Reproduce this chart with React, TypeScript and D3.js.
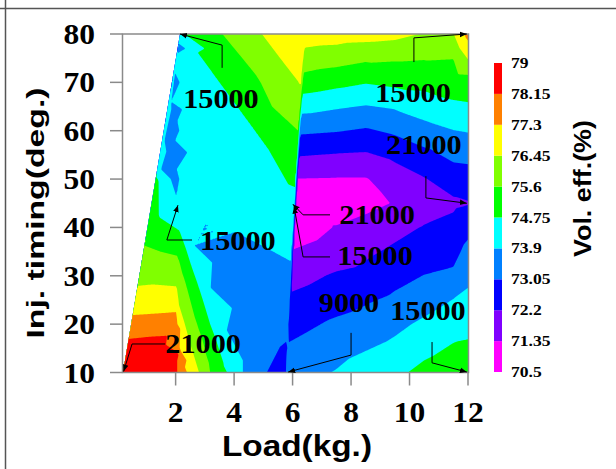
import React, { useMemo } from "react";
import * as d3 from "d3";

const W = 616;
const H = 469;

// colour levels of the filled contour (Vol. eff. %)
const levels = [70.5, 71.35, 72.2, 73.05, 73.9, 74.75, 75.6, 76.45, 77.3, 78.15, 79];
const levelLabels = ["70.5", "71.35", "72.2", "73.05", "73.9", "74.75", "75.6", "76.45", "77.3", "78.15", "79"];
const bandColors = ["#FF00FF", "#8000FF", "#0000FF", "#0080FF", "#00FFFF", "#00FF00", "#80FF00", "#FFFF00", "#FF8000", "#FF0000"];

const xTicks = [2, 4, 6, 8, 10, 12];
const yTicks = [10, 20, 30, 40, 50, 60, 70, 80];
const loadDomain = [0.2, 12];
const timingDomain = [10, 80];

// data hull (load, timing)
const hull: [number, number][] = [[0.2, 10], [2.15, 80], [12, 80], [12, 10]];

type S = [number, number, number]; // [load, timing, vol. eff.]

// left wedge (load < 2)
const leftSamples: S[] = [
  [0.2, 10, 79.0], [0.34, 15, 78.5], [0.48, 20, 77.6], [0.62, 25, 76.8], [0.76, 30, 76.2],
  [0.9, 35, 75.7], [1.04, 40, 75.3], [1.31, 50, 74.9], [1.45, 55, 74.7], [1.73, 65, 74.4],
  [2.01, 75, 74.2], [2.15, 80, 74.0],
  [2.01, 10, 78.6], [2.02, 14, 78.4], [2.02, 20, 77.7], [2.03, 25, 76.9], [2.04, 30, 76.1],
  [2.05, 35, 75.5], [2.05, 40, 74.7], [2.06, 45, 73.95], [2.07, 50, 73.45], [2.08, 60, 73.35],
  [2.1, 70, 73.4], [2.11, 77, 73.6],
  [2.02, 46.5, 73.9], [1.5, 52, 73.9], [1.62, 58, 73.9], [1.85, 66, 73.9], [1.98, 72, 73.9], [2.1, 78, 73.9],
  [1.8, 56, 73.5], [1.95, 64, 73.5], [1.0, 13, 78.8], [1.5, 16, 78.45],
];

// middle strip (2 < load < 6)
const middleSamples: S[] = [
  [2.09, 10, 77.8], [2.1, 15, 77.4], [2.1, 20, 76.9], [2.11, 25, 76.35], [2.12, 30, 75.9],
  [2.13, 35, 75.4], [2.13, 40, 74.65], [2.14, 45, 73.9], [2.15, 50, 74.1], [2.16, 60, 74.3],
  [2.18, 70, 74.45], [2.19, 80, 74.65],
  [2.39, 10, 77.3], [2.8, 10, 76.45], [3.18, 10, 75.6], [3.76, 10, 74.75], [4.3, 10, 73.9], [5.12, 10, 73.05],
  [5.73, 10, 72.5], [5.78, 15, 72.95], [5.82, 20, 73.3], [5.87, 25, 73.55], [5.92, 30, 73.75],
  [5.96, 35, 74.0], [6.01, 40, 74.3], [6.06, 45, 74.55], [6.1, 50, 74.85], [6.15, 55, 75.15],
  [6.19, 60, 75.6], [6.24, 65, 76.05], [6.29, 70, 76.5], [6.33, 75, 76.8], [6.38, 80, 77.05],
  [2.3, 80, 74.75], [3.6, 80, 75.6], [4.95, 80, 76.45],
  [3.25, 72.1, 74.75], [4.2, 64.3, 74.75], [5.15, 56.4, 74.75],
  [4.92, 69.85, 75.6], [5.6, 74.8, 76.45],
  [3.1, 41.9, 73.9], [4.05, 39.0, 73.9], [5.0, 36.1, 73.9],
  [2.65, 36.25, 73.9], [3.2, 27.5, 73.9], [3.75, 18.75, 73.9],
  [2.54, 32, 74.75], [2.95, 24.6, 74.75], [3.35, 17.3, 74.75],
  [2.65, 21.5, 75.6], [2.45, 17, 76.45], [5.57, 15.3, 73.05],
  [3.0, 55, 74.3], [4.0, 50, 74.3], [5.0, 45, 74.4], [2.6, 65, 74.45], [3.5, 45, 74.2],
  [3.5, 33, 73.6], [4.5, 27, 73.45], [5.2, 22, 73.4], [4.6, 33, 73.65], [4.7, 13, 73.5],
  [3.3, 77, 75.15], [5.0, 62, 75.2], [4.2, 71, 75.2],
  [4.5, 78, 76.0], [5.6, 68, 76.0], [5.3, 72, 76.0], [5.8, 77, 76.75],
  [3.42, 20, 74.3], [2.94, 20, 75.2], [2.53, 20, 76.0],
  [2.5, 12, 76.9], [3.9, 12, 74.3], [2.9, 12, 76.0],
];

// right block edge (just past load 6)
const rightEdgeSamples: S[] = [
  [5.81, 10, 73.5], [5.86, 15, 73.15], [5.9, 20, 72.75], [5.95, 25, 72.35], [6.0, 30, 71.9],
  [6.04, 35, 71.4], [6.09, 40, 70.9], [6.14, 45, 70.85], [6.18, 50, 71.33], [6.23, 55, 72.25],
  [6.27, 60, 73.2], [6.32, 65, 74.2], [6.37, 70, 75.25], [6.41, 75, 76.1], [6.46, 80, 76.9],
];

// right block columns
const rightLoads = [7.5, 8.5, 9.5, 10.5, 11.5, 12];
const rightTimings = [10, 15, 20, 25, 30, 35, 40, 45, 50, 55, 60, 65, 70, 75, 80];
const effAt75 = [73.95, 73.6, 73.2, 72.7, 72.3, 71.75, 71.4, 70.85, 71.3, 72.15, 73.1, 74.0, 75.0, 75.95, 76.85];
const effAt85 = [74.3, 73.85, 73.4, 72.95, 72.45, 72.05, 71.65, 71.1, 71.3, 72.1, 72.95, 73.85, 74.8, 75.75, 76.8];
const effAt95 = [74.55, 74.1, 73.7, 73.2, 72.8, 72.35, 71.95, 71.4, 71.75, 72.4, 73.2, 74.0, 74.95, 75.7, 76.7];
const effAt105 = [75.0, 74.5, 74.05, 73.55, 73.07, 72.65, 72.25, 71.8, 72.15, 72.8, 73.6, 74.3, 75.0, 75.65, 76.4];
const effAt115 = [75.3, 74.85, 74.4, 73.92, 73.2, 72.8, 72.45, 72.05, 72.6, 73.25, 73.88, 74.6, 75.15, 75.62, 76.42];
const effAt12 = [75.4, 74.9, 74.5, 74.1, 73.7, 73.3, 72.8, 72.15, 72.65, 73.3, 73.95, 74.65, 75.2, 76.5, 77.6];
const rightColumns = [effAt75, effAt85, effAt95, effAt105, effAt115, effAt12];

// point labels with leader lines (load, timing)
const annotations: { text: string; at: [number, number]; path: [number, number][] }[] = [
  { text: "15000", at: [3.55, 66.6], path: [[3.59, 73.0], [3.59, 77.7], [2.15, 80]] },
  { text: "15000", at: [10.12, 67.8], path: [[10.15, 74.2], [10.15, 79.2], [11.96, 80]] },
  { text: "21000", at: [10.49, 57.0], path: [[10.56, 50.6], [10.56, 46.1], [11.96, 45.0]] },
  { text: "21000", at: [8.89, 42.6], path: [[7.28, 42.6], [6.36, 42.6], [6.01, 44.8]] },
  { text: "15000", at: [8.82, 34.1], path: [[7.28, 33.9], [6.36, 33.9], [6.05, 44.3]] },
  { text: "9000", at: [7.93, 24.4], path: [[8.0, 18.2], [8.0, 13.6], [5.85, 10.1]] },
  { text: "15000", at: [10.63, 22.7], path: [[10.77, 16.3], [10.77, 12.0], [11.96, 10.1]] },
  { text: "15000", at: [4.13, 37.2], path: [[2.56, 37.4], [1.7, 37.4], [2.08, 44.6]] },
  { text: "21000", at: [2.94, 15.9], path: [[1.64, 15.9], [0.51, 15.9], [0.22, 10.2]] },
];

const SERIF = "'Liberation Serif', 'Times New Roman', Times, serif";
const SANS = "'Liberation Sans', Arial, sans-serif";
const AXIS = "#8a8a8a";

export default function App() {
  const x = d3.scaleLinear().domain(loadDomain).range([123, 468]);
  const y = d3.scaleLinear().domain(timingDomain).range([372.5, 34]);

  const bands = useMemo(() => {
    const samples: S[] = [...leftSamples, ...middleSamples, ...rightEdgeSamples];
    rightLoads.forEach((ld, ci) => {
      rightTimings.forEach((tm, ri) => samples.push([ld, tm, rightColumns[ci][ri]]));
    });
    const P = samples.map((s) => [x(s[0]), y(s[1])] as [number, number]);
    const del = d3.Delaunay.from(P);
    const x0 = x(loadDomain[0]);
    const x1 = x(loadDomain[1]);
    const y0 = y(timingDomain[1]);
    const y1 = y(timingDomain[0]);
    const nx = Math.round(x1 - x0) + 1;
    const ny = Math.round(y1 - y0) + 1;
    const dx = (x1 - x0) / (nx - 1);
    const dy = (y1 - y0) / (ny - 1);
    const vals = new Float64Array(nx * ny).fill(NaN);
    const tri = del.triangles;
    for (let t = 0; t < tri.length; t += 3) {
      const ia = tri[t], ib = tri[t + 1], ic = tri[t + 2];
      const [ax, ay] = P[ia];
      const [bx, by] = P[ib];
      const [cx, cy] = P[ic];
      const va = samples[ia][2], vb = samples[ib][2], vc = samples[ic][2];
      const det = (by - cy) * (ax - cx) + (cx - bx) * (ay - cy);
      if (Math.abs(det) < 1e-9) continue;
      const gx0 = Math.max(0, Math.floor((Math.min(ax, bx, cx) - x0) / dx));
      const gx1 = Math.min(nx - 1, Math.ceil((Math.max(ax, bx, cx) - x0) / dx));
      const gy0 = Math.max(0, Math.floor((Math.min(ay, by, cy) - y0) / dy));
      const gy1 = Math.min(ny - 1, Math.ceil((Math.max(ay, by, cy) - y0) / dy));
      for (let gy = gy0; gy <= gy1; gy++) {
        const py = y0 + gy * dy;
        for (let gx = gx0; gx <= gx1; gx++) {
          const px = x0 + gx * dx;
          const l1 = ((by - cy) * (px - cx) + (cx - bx) * (py - cy)) / det;
          const l2 = ((cy - ay) * (px - cx) + (ax - cx) * (py - cy)) / det;
          const l3 = 1 - l1 - l2;
          if (l1 >= -1e-7 && l2 >= -1e-7 && l3 >= -1e-7) {
            vals[gy * nx + gx] = l1 * va + l2 * vb + l3 * vc;
          }
        }
      }
    }
    for (let gy = 0; gy < ny; gy++) {
      for (let gx = 0; gx < nx; gx++) {
        const i = gy * nx + gx;
        if (isNaN(vals[i])) {
          const k = del.find(x0 + gx * dx, y0 + gy * dy);
          vals[i] = samples[k][2];
        }
      }
    }
    const cs = d3.contours().size([nx, ny]).thresholds(levels.slice(0, 10))(Array.from(vals));
    const proj = d3.geoTransform({
      point(gx: number, gy: number) {
        (this as any).stream.point(x0 + (gx - 0.5) * dx, y0 + (gy - 0.5) * dy);
      },
    });
    const gp = d3.geoPath(proj);
    return cs.map((c, i) => ({ d: gp(c as any) || "", color: bandColors[i] }));
  }, []);

  const hullPath = "M" + hull.map((p) => `${x(p[0])},${y(p[1])}`).join("L") + "Z";
  const line = d3.line<[number, number]>().x((d) => x(d[0])).y((d) => y(d[1]));

  const cbX = 494;
  const cbW = 8;
  const cb = d3.scaleLinear().domain([levels[0], levels[levels.length - 1]]).range([372, 63]);

  const labelFs = 28;
  const tickFs = 30;

  return (
    <svg width={W} height={H} viewBox={`0 0 ${W} ${H}`} style={{ display: "block", position: "absolute", left: 0, top: 0 }}>
      <rect x={0} y={0} width={W} height={H} fill="#fff" />
      <defs>
        <clipPath id="hullClip">
          <path d={hullPath} />
        </clipPath>
        <marker id="arrow" viewBox="0 0 10 10" refX="10" refY="5" markerWidth="7" markerHeight="7" markerUnits="userSpaceOnUse" orient="auto">
          <path d="M0,1 L10,5 L0,9 Z" fill="#000" />
        </marker>
      </defs>

      {/* page frame */}
      <line x1={0} y1={8.5} x2={W} y2={8.5} stroke="#555" strokeWidth={1.5} />
      <line x1={5.5} y1={0} x2={5.5} y2={H} stroke="#555" strokeWidth={1.5} />

      {/* contour bands */}
      <g clipPath="url(#hullClip)">
        {bands.map((b, i) => (
          <path key={i} d={b.d} fill={b.color} stroke="none" />
        ))}
      </g>

      {/* axes box */}
      <rect x={x(0.2) - 0.5} y={y(80)} width={x(12) - x(0.2) + 1} height={y(10) - y(80)} fill="none" stroke={AXIS} strokeWidth={1.5} />
      {yTicks.map((t) => (
        <line key={"yt" + t} x1={110} x2={x(0.2) - 0.5} y1={y(t)} y2={y(t)} stroke={AXIS} strokeWidth={1.5} />
      ))}
      {xTicks.map((t) => (
        <line key={"xt" + t} x1={x(t)} x2={x(t)} y1={y(10)} y2={y(10) + 13} stroke={AXIS} strokeWidth={1.5} />
      ))}
      {yTicks.map((t) => (
        <g key={"yl" + t} transform={`translate(95,${y(t) + 10}) scale(1.05,1)`}>
          <text textAnchor="end" fontFamily={SERIF} fontWeight="bold" fontSize={tickFs} fill="#000">
            {t}
          </text>
        </g>
      ))}
      {xTicks.map((t) => (
        <g key={"xl" + t} transform={`translate(${x(t)},422) scale(1.05,1)`}>
          <text textAnchor="middle" fontFamily={SERIF} fontWeight="bold" fontSize={tickFs} fill="#000">
            {t}
          </text>
        </g>
      ))}

      {/* axis titles */}
      <text x={297} y={456} textAnchor="middle" fontFamily={SANS} fontWeight="bold" fontSize={30} textLength={150} lengthAdjust="spacingAndGlyphs" fill="#000">
        Load(kg.)
      </text>
      <text transform="translate(44,213) rotate(-90)" textAnchor="middle" fontFamily={SANS} fontWeight="bold" fontSize={23} textLength={251} lengthAdjust="spacingAndGlyphs" fill="#000">
        Inj. timing(deg.)
      </text>

      {/* point labels */}
      {annotations.map((a, i) => (
        <g key={"an" + i}>
          <path d={line(a.path) || ""} fill="none" stroke="#000" strokeWidth={1} markerEnd="url(#arrow)" />
          <g transform={`translate(${x(a.at[0])},${y(a.at[1]) + labelFs * 0.33}) scale(1.08,1)`}>
            <text textAnchor="middle" fontFamily={SERIF} fontWeight="bold" fontSize={labelFs} fill="#000">
              {a.text}
            </text>
          </g>
        </g>
      ))}

      {/* colour bar */}
      {bandColors.map((c, i) => (
        <rect key={"cb" + i} x={cbX} y={cb(levels[i + 1])} width={cbW} height={cb(levels[i]) - cb(levels[i + 1])} fill={c} />
      ))}
      {levels.map((v, i) => (
        <g key={"cl" + i} transform={`translate(511,${cb(v) + 5}) scale(1.17,1)`}>
          <text fontFamily={SERIF} fontWeight="bold" fontSize={15} fill="#000">
            {levelLabels[i]}
          </text>
        </g>
      ))}
      <text transform="translate(591,188.5) rotate(-90)" textAnchor="middle" fontFamily={SANS} fontWeight="bold" fontSize={23} textLength={137} lengthAdjust="spacingAndGlyphs" fill="#000">
        Vol. eff.(%)
      </text>
    </svg>
  );
}
